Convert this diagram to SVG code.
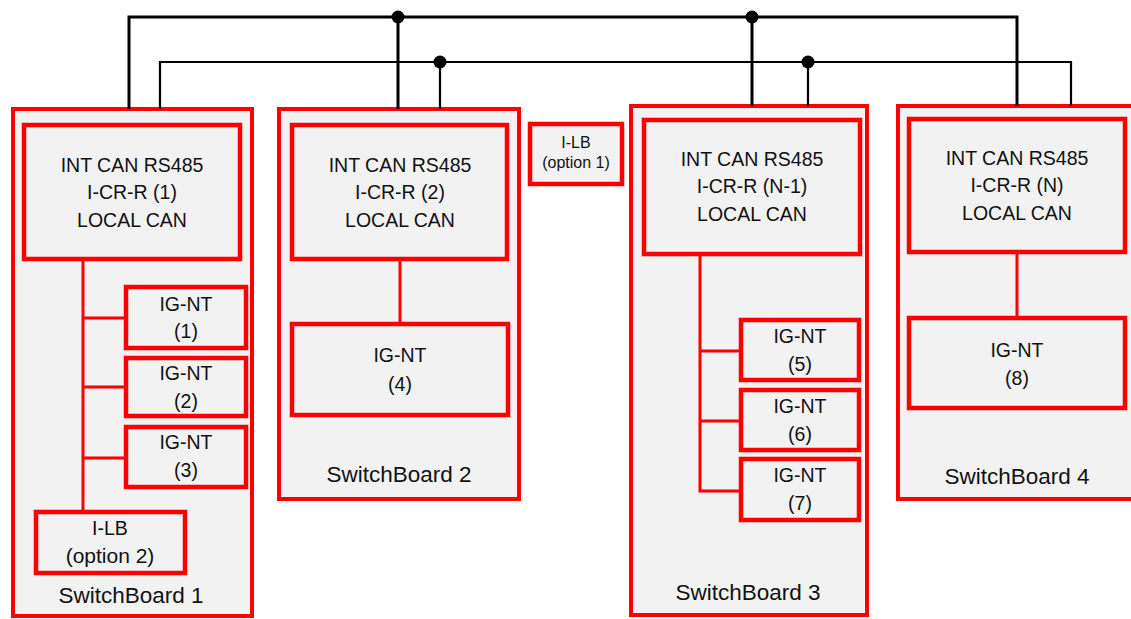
<svg xmlns="http://www.w3.org/2000/svg" width="1131" height="619" viewBox="0 0 1131 619">
<style>
.board{fill:#f2f2f2;stroke:#ff0000;stroke-width:4}
.box{fill:#f2f2f2;stroke:#ff0000;stroke-width:4.5}
.t{font-family:"Liberation Sans",Arial,sans-serif;font-size:19.5px;fill:#111;text-anchor:middle}
.lc{font-size:21px}
.s{font-family:"Liberation Sans",Arial,sans-serif;font-size:16px;fill:#111;text-anchor:middle}
.lbl{font-family:"Liberation Sans",Arial,sans-serif;font-size:22.5px;fill:#111;text-anchor:middle}
.red{fill:none;stroke:#ff0000;stroke-width:3}
.bus1{fill:none;stroke:#000;stroke-width:3}
.bus2{fill:none;stroke:#000;stroke-width:2.2}
</style>
<g id="switchboard1">
<rect class="board" x="13" y="109" width="239" height="507"/>
<text class="lbl" x="131" y="603">SwitchBoard 1</text>
</g>
<g id="switchboard2">
<rect class="board" x="279" y="109" width="240" height="390"/>
<text class="lbl" x="399" y="482">SwitchBoard 2</text>
</g>
<g id="switchboard3">
<rect class="board" x="631" y="106" width="236" height="509"/>
<text class="lbl" x="748" y="600">SwitchBoard 3</text>
</g>
<g id="switchboard4">
<rect class="board" x="898" y="106" width="240" height="393"/>
<text class="lbl" x="1017" y="484">SwitchBoard 4</text>
</g>
<g id="connectors">
<path class="red" d="M83 259V512M83 318H126M83 387H126M83 458H126"/>
<path class="red" d="M400 259V324"/>
<path class="red" d="M700 254V491H741M700 351H741M700 421H741"/>
<path class="red" d="M1017 252V318"/>
<path class="bus1" d="M129 109V17H1017V106M398 17V109M752 17V106"/>
<path class="bus2" d="M160 109V62H1071V106M440 62V109M808 62V106"/>
<circle cx="398" cy="17" r="6.5"/>
<circle cx="752" cy="17" r="6.5"/>
<circle cx="440" cy="62" r="6.5"/>
<circle cx="808" cy="62" r="6.5"/>
</g>
<g id="icrr1">
<rect class="box" x="24" y="125" width="216" height="134"/>
<text class="t" x="132" y="172">INT CAN RS485</text>
<text class="t" x="132" y="199">I-CR-R (1)</text>
<text class="t" x="132" y="227">LOCAL CAN</text>
</g>
<g id="ignt1">
<rect class="box" x="126" y="287" width="120" height="61"/>
<text class="t" x="186" y="311">IG-NT</text>
<text class="t" x="186" y="338">(1)</text>
</g>
<g id="ignt2">
<rect class="box" x="126" y="358" width="120" height="58"/>
<text class="t" x="186" y="380">IG-NT</text>
<text class="t" x="186" y="408">(2)</text>
</g>
<g id="ignt3">
<rect class="box" x="126" y="427" width="120" height="60"/>
<text class="t" x="186" y="449">IG-NT</text>
<text class="t" x="186" y="477">(3)</text>
</g>
<g id="ilb2">
<rect class="box" x="36" y="512" width="149" height="61"/>
<text class="t" x="110" y="535">I-LB</text>
<text class="t lc" x="110" y="563">(option 2)</text>
</g>
<g id="icrr2">
<rect class="box" x="292" y="125" width="215" height="134"/>
<text class="t" x="400" y="172">INT CAN RS485</text>
<text class="t" x="400" y="199">I-CR-R (2)</text>
<text class="t" x="400" y="227">LOCAL CAN</text>
</g>
<g id="ignt4">
<rect class="box" x="292" y="324" width="216" height="91"/>
<text class="t" x="400" y="362">IG-NT</text>
<text class="t" x="400" y="391">(4)</text>
</g>
<g id="ilb1">
<rect class="box" x="530" y="124" width="92" height="60"/>
<text class="s" x="576" y="148">I-LB</text>
<text class="s" x="576" y="168">(option 1)</text>
</g>
<g id="icrr3">
<rect class="box" x="644" y="120" width="216" height="134"/>
<text class="t" x="752" y="166">INT CAN RS485</text>
<text class="t" x="752" y="193">I-CR-R (N-1)</text>
<text class="t" x="752" y="221">LOCAL CAN</text>
</g>
<g id="ignt5">
<rect class="box" x="741" y="320" width="118" height="60"/>
<text class="t" x="800" y="343">IG-NT</text>
<text class="t" x="800" y="371">(5)</text>
</g>
<g id="ignt6">
<rect class="box" x="741" y="390" width="118" height="60"/>
<text class="t" x="800" y="413">IG-NT</text>
<text class="t" x="800" y="441">(6)</text>
</g>
<g id="ignt7">
<rect class="box" x="741" y="459" width="118" height="61"/>
<text class="t" x="800" y="482">IG-NT</text>
<text class="t" x="800" y="510">(7)</text>
</g>
<g id="icrr4">
<rect class="box" x="909" y="119" width="216" height="133"/>
<text class="t" x="1017" y="165">INT CAN RS485</text>
<text class="t" x="1017" y="192">I-CR-R (N)</text>
<text class="t" x="1017" y="220">LOCAL CAN</text>
</g>
<g id="ignt8">
<rect class="box" x="909" y="318" width="216" height="90"/>
<text class="t" x="1017" y="357">IG-NT</text>
<text class="t" x="1017" y="385">(8)</text>
</g>
</svg>
